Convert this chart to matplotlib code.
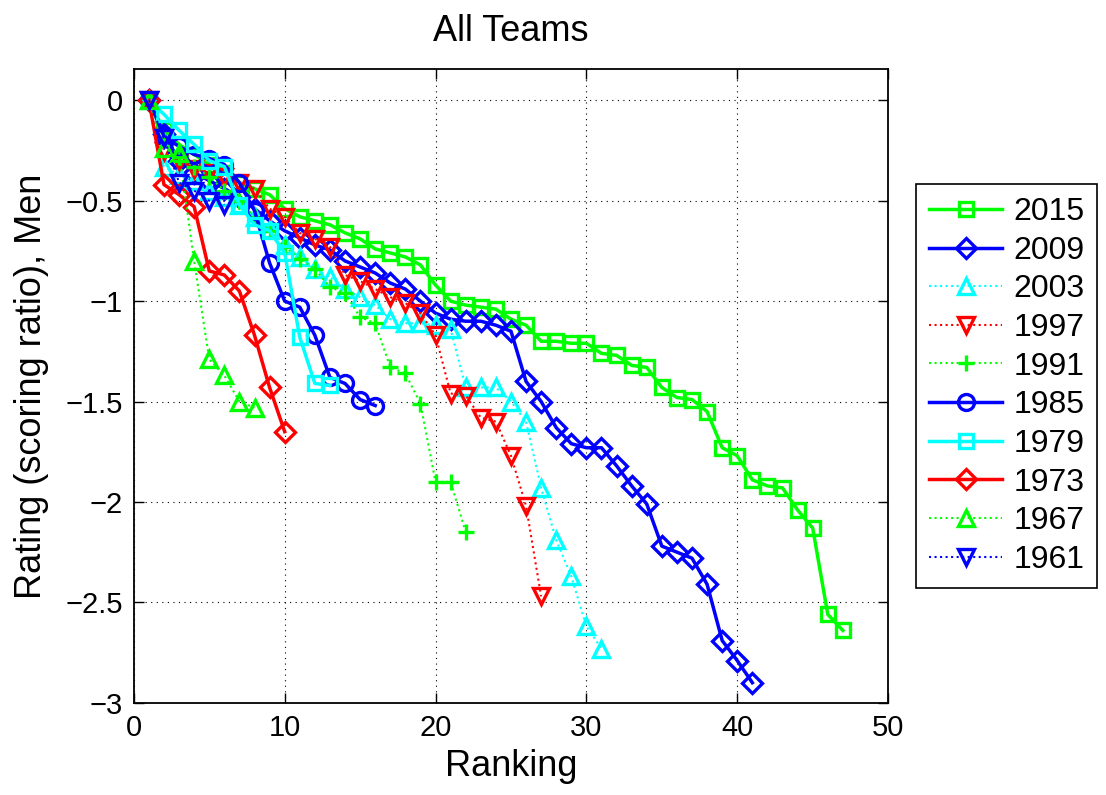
import numpy as np
import matplotlib
matplotlib.use('Agg')
import matplotlib.pyplot as plt

plt.rcParams['font.family'] = ['Liberation Sans', 'DejaVu Sans']

# ratings per championship, ordered by final ranking
years = ['2015', '2009', '2003', '1997', '1991', '1985', '1979', '1973', '1967', '1961']

r2015 = [0, -0.15, -0.22, -0.27, -0.32, -0.36, -0.41, -0.44, -0.47, -0.54,
         -0.58, -0.60, -0.62, -0.66, -0.69, -0.74, -0.76, -0.78, -0.82, -0.92,
         -1.00, -1.02, -1.03, -1.04, -1.09, -1.12, -1.20, -1.20, -1.21, -1.21,
         -1.26, -1.27, -1.32, -1.33, -1.43, -1.48, -1.49, -1.55, -1.73, -1.77,
         -1.89, -1.92, -1.93, -2.04, -2.13, -2.56, -2.64]
r2009 = [0, -0.17, -0.30, -0.36, -0.40, -0.44, -0.48, -0.54, -0.60, -0.65,
         -0.685, -0.72, -0.745, -0.80, -0.83, -0.86, -0.91, -0.94, -1.00, -1.06,
         -1.09, -1.10, -1.10, -1.12, -1.15, -1.40, -1.50, -1.63, -1.71, -1.73,
         -1.73, -1.82, -1.92, -2.01, -2.22, -2.25, -2.28, -2.41, -2.69, -2.79,
         -2.90]
r2003 = [0, -0.33, -0.37, -0.40, -0.45, -0.48, -0.52, -0.58, -0.64, -0.72,
         -0.78, -0.84, -0.88, -0.94, -0.98, -1.02, -1.09, -1.11, -1.11, -1.12,
         -1.14, -1.43, -1.43, -1.43, -1.50, -1.60, -1.93, -2.19, -2.37, -2.62,
         -2.73]
r1997 = [0, -0.25, -0.30, -0.34, -0.36, -0.38, -0.41, -0.44, -0.54, -0.58,
         -0.66, -0.69, -0.73, -0.87, -0.90, -0.94, -0.98, -1.01, -1.06, -1.17,
         -1.46, -1.47, -1.58, -1.60, -1.77, -2.02, -2.47]
r1991 = [0, -0.20, -0.28, -0.33, -0.38, -0.45, -0.50, -0.58, -0.65, -0.73,
         -0.79, -0.84, -0.93, -0.96, -1.08, -1.11, -1.33, -1.36, -1.51, -1.90,
         -1.90, -2.15]
r1985 = [0, -0.18, -0.23, -0.27, -0.29, -0.32, -0.41, -0.55, -0.81, -1.00,
         -1.03, -1.17, -1.38, -1.41, -1.49, -1.52]
r1979 = [0, -0.07, -0.15, -0.22, -0.30, -0.33, -0.52, -0.62, -0.65, -0.76,
         -1.18, -1.41, -1.42]
r1973 = [0, -0.42, -0.47, -0.53, -0.85, -0.87, -0.95, -1.17, -1.43, -1.65]
r1967 = [0, -0.24, -0.26, -0.80, -1.29, -1.37, -1.50, -1.53]
r1961 = [0, -0.19, -0.41, -0.45, -0.50, -0.52]

ratings = [r2015, r2009, r2003, r1997, r1991, r1985, r1979, r1973, r1967, r1961]

styles = [('#00ff00', '-', 's'), ('#0000ff', '-', 'D'), ('#00ffff', ':', '^'),
          ('#ff0000', ':', 'v'), ('#00ff00', ':', '+'), ('#0000ff', '-', 'o'),
          ('#00ffff', '-', 's'), ('#ff0000', '-', 'D'), ('#00ff00', ':', '^'),
          ('#0000ff', ':', 'v')]

fig = plt.figure(figsize=(11.06, 7.95), dpi=100)
ax = fig.add_axes([0.121, 0.116, 0.682, 0.797])

for yr, r, (c, ls, m) in zip(years, ratings, styles):
    rank = np.arange(1, len(r) + 1)
    ms = {'s': 10.5, 'D': 10, 'o': 11.5, '^': 12, 'v': 12, '+': 11}[m]
    lw = 2.5 if ls == '-' else 1.5
    ax.plot(rank, r, color=c, linestyle=ls, linewidth=lw, marker=m,
            markersize=ms, markerfacecolor='none', markeredgecolor=c,
            markeredgewidth=2.4, label=yr)

ax.set_xlim(0, 50)
ax.set_ylim(-3, 0.155)
ax.set_xticks(np.arange(0, 51, 10))
ax.set_yticks(np.arange(-3, 0.01, 0.5))
ax.set_yticklabels(['\u22123', '\u22122.5', '\u22122', '\u22121.5', '\u22121', '\u22120.5', '0'])
ax.grid(True, color='k', linestyle=(0, (1, 4)), linewidth=0.8)
ax.tick_params(direction='in', top=True, right=True, length=7, width=1,
               labelsize=21, pad=8)
for s in ax.spines.values():
    s.set_linewidth(1.3)

ax.set_title('All Teams', fontsize=26, pad=20)
ax.set_xlabel('Ranking', fontsize=26, labelpad=5)
ax.set_ylabel('Rating (scoring ratio), Men', fontsize=26, labelpad=12)

leg = ax.legend(loc='center left', bbox_to_anchor=(1.037, 0.5), borderaxespad=0,
                fontsize=23, fancybox=False, framealpha=1, edgecolor='k',
                handlelength=2.3, labelspacing=0.27, borderpad=0.4,
                handletextpad=0.35)
leg.get_frame().set_linewidth(1.2)

fig.savefig('out.png', dpi=100)
